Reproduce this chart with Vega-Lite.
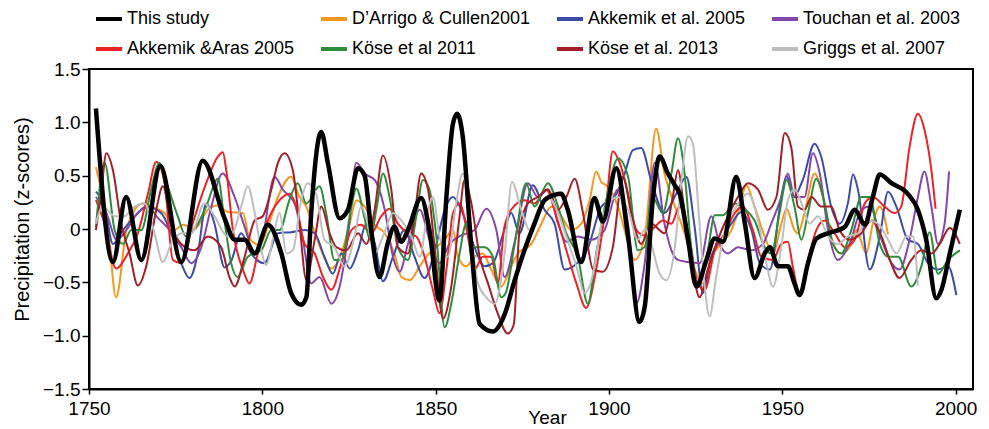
{
"$schema": "https://vega.github.io/schema/vega-lite/v6.json",
"width": 884, "height": 320,
"autosize": "none",
"padding": {"left": 89, "top": 69, "right": 16, "bottom": 40},
"background": "white",
"config": {
 "font": "Liberation Sans",
 "view": {"stroke": "black", "strokeWidth": 2},
 "axis": {"grid": false, "domainColor": "black", "domainWidth": 2, "tickColor": "black", "tickWidth": 1.5, "labelColor": "black", "titleColor": "black", "labelFontSize": 19, "titleFontSize": 20, "titleFontWeight": "normal"}
},
"data": {"values": [
{"series":"This study","year":1752,"z":1.13},{"series":"This study","year":1756.9,"z":-0.31},{"series":"This study","year":1760.7,"z":0.3},{"series":"This study","year":1765.1,"z":-0.29},{"series":"This study","year":1770.6,"z":0.59},{"series":"This study","year":1776.6,"z":-0.31},{"series":"This study","year":1782.8,"z":0.64},{"series":"This study","year":1789.1,"z":0.1},{"series":"This study","year":1792,"z":-0.1},{"series":"This study","year":1794.9,"z":-0.1},{"series":"This study","year":1797.8,"z":-0.23},{"series":"This study","year":1801.6,"z":0.04},{"series":"This study","year":1805.5,"z":-0.23},{"series":"This study","year":1808.3,"z":-0.6},{"series":"This study","year":1811.2,"z":-0.71},{"series":"This study","year":1812.7,"z":-0.64},{"series":"This study","year":1814.1,"z":0.15},{"series":"This study","year":1817,"z":0.91},{"series":"This study","year":1818.9,"z":0.62},{"series":"This study","year":1822.3,"z":0.1},{"series":"This study","year":1824.7,"z":0.18},{"series":"This study","year":1827.6,"z":0.57},{"series":"This study","year":1829.5,"z":0.5},{"series":"This study","year":1831.4,"z":-0.01},{"series":"This study","year":1833.8,"z":-0.45},{"series":"This study","year":1836.2,"z":-0.13},{"series":"This study","year":1838.1,"z":0.02},{"series":"This study","year":1840.1,"z":-0.12},{"series":"This study","year":1842,"z":-0.01},{"series":"This study","year":1845.8,"z":0.29},{"series":"This study","year":1848.2,"z":-0.01},{"series":"This study","year":1851.1,"z":-0.67},{"series":"This study","year":1853.1,"z":0.3},{"series":"This study","year":1855,"z":0.99},{"series":"This study","year":1856.2,"z":1.08},{"series":"This study","year":1857.8,"z":0.87},{"series":"This study","year":1860.3,"z":-0.17},{"series":"This study","year":1862.7,"z":-0.89},{"series":"This study","year":1866.5,"z":-0.96},{"series":"This study","year":1869.9,"z":-0.8},{"series":"This study","year":1872.8,"z":-0.48},{"series":"This study","year":1875.6,"z":-0.2},{"series":"This study","year":1878.5,"z":0.05},{"series":"This study","year":1881.4,"z":0.27},{"series":"This study","year":1884.3,"z":0.32},{"series":"This study","year":1886.2,"z":0.33},{"series":"This study","year":1888.1,"z":0.18},{"series":"This study","year":1892,"z":-0.31},{"series":"This study","year":1895.8,"z":0.29},{"series":"This study","year":1898.2,"z":0.07},{"series":"This study","year":1902.1,"z":0.57},{"series":"This study","year":1905.5,"z":-0.07},{"series":"This study","year":1908.8,"z":-0.87},{"series":"This study","year":1910.3,"z":-0.73},{"series":"This study","year":1912.7,"z":0.3},{"series":"This study","year":1914.6,"z":0.68},{"series":"This study","year":1917,"z":0.52},{"series":"This study","year":1919,"z":0.41},{"series":"This study","year":1920.4,"z":0.33},{"series":"This study","year":1922.8,"z":-0.1},{"series":"This study","year":1925.2,"z":-0.54},{"series":"This study","year":1928.1,"z":-0.29},{"series":"This study","year":1930.5,"z":-0.09},{"series":"This study","year":1932.9,"z":-0.12},{"series":"This study","year":1936.7,"z":0.49},{"series":"This study","year":1939.2,"z":0.05},{"series":"This study","year":1942,"z":-0.46},{"series":"This study","year":1944.9,"z":-0.23},{"series":"This study","year":1946.4,"z":-0.17},{"series":"This study","year":1948.7,"z":-0.35},{"series":"This study","year":1951.6,"z":-0.35},{"series":"This study","year":1953.5,"z":-0.51},{"series":"This study","year":1955,"z":-0.62},{"series":"This study","year":1957.4,"z":-0.32},{"series":"This study","year":1959.8,"z":-0.09},{"series":"This study","year":1963.2,"z":-0.04},{"series":"This study","year":1968,"z":0.02},{"series":"This study","year":1970.9,"z":0.18},{"series":"This study","year":1973.8,"z":0.04},{"series":"This study","year":1976.1,"z":0.3},{"series":"This study","year":1978.1,"z":0.51},{"series":"This study","year":1981.5,"z":0.43},{"series":"This study","year":1986.2,"z":0.33},{"series":"This study","year":1989.1,"z":0.18},{"series":"This study","year":1991.5,"z":-0.1},{"series":"This study","year":1994.4,"z":-0.65},{"series":"This study","year":1995.9,"z":-0.57},{"series":"This study","year":1998.3,"z":-0.23},{"series":"This study","year":2001.2,"z":0.18},
{"series":"D’Arrigo & Cullen2001","year":1752,"z":0.58},{"series":"D’Arrigo & Cullen2001","year":1755.5,"z":0.0},{"series":"D’Arrigo & Cullen2001","year":1757.8,"z":-0.64},{"series":"D’Arrigo & Cullen2001","year":1761,"z":0.02},{"series":"D’Arrigo & Cullen2001","year":1765.5,"z":0.24},{"series":"D’Arrigo & Cullen2001","year":1769.4,"z":0.19},{"series":"D’Arrigo & Cullen2001","year":1771.8,"z":0.15},{"series":"D’Arrigo & Cullen2001","year":1774.7,"z":-0.01},{"series":"D’Arrigo & Cullen2001","year":1777.1,"z":0.04},{"series":"D’Arrigo & Cullen2001","year":1780.4,"z":0.0},{"series":"D’Arrigo & Cullen2001","year":1784.3,"z":0.18},{"series":"D’Arrigo & Cullen2001","year":1787.2,"z":0.22},{"series":"D’Arrigo & Cullen2001","year":1790,"z":0.16},{"series":"D’Arrigo & Cullen2001","year":1794.4,"z":0.15},{"series":"D’Arrigo & Cullen2001","year":1796.3,"z":-0.09},{"series":"D’Arrigo & Cullen2001","year":1799.2,"z":-0.15},{"series":"D’Arrigo & Cullen2001","year":1801.6,"z":0.02},{"series":"D’Arrigo & Cullen2001","year":1804.5,"z":0.3},{"series":"D’Arrigo & Cullen2001","year":1808.3,"z":0.49},{"series":"D’Arrigo & Cullen2001","year":1810.7,"z":0.3},{"series":"D’Arrigo & Cullen2001","year":1812.7,"z":0.21},{"series":"D’Arrigo & Cullen2001","year":1814.1,"z":0.07},{"series":"D’Arrigo & Cullen2001","year":1817,"z":-0.2},{"series":"D’Arrigo & Cullen2001","year":1819.9,"z":-0.37},{"series":"D’Arrigo & Cullen2001","year":1822.8,"z":-0.23},{"series":"D’Arrigo & Cullen2001","year":1825.2,"z":0.05},{"series":"D’Arrigo & Cullen2001","year":1827.1,"z":0.27},{"series":"D’Arrigo & Cullen2001","year":1829.5,"z":0.21},{"series":"D’Arrigo & Cullen2001","year":1832.4,"z":0.04},{"series":"D’Arrigo & Cullen2001","year":1835.3,"z":-0.04},{"series":"D’Arrigo & Cullen2001","year":1838.1,"z":-0.23},{"series":"D’Arrigo & Cullen2001","year":1840.1,"z":-0.45},{"series":"D’Arrigo & Cullen2001","year":1842.5,"z":-0.48},{"series":"D’Arrigo & Cullen2001","year":1845.4,"z":-0.35},{"series":"D’Arrigo & Cullen2001","year":1847.8,"z":-0.24},{"series":"D’Arrigo & Cullen2001","year":1850.2,"z":-0.17},{"series":"D’Arrigo & Cullen2001","year":1852.6,"z":-0.1},{"series":"D’Arrigo & Cullen2001","year":1855,"z":-0.01},{"series":"D’Arrigo & Cullen2001","year":1856.4,"z":-0.26},{"series":"D’Arrigo & Cullen2001","year":1858.8,"z":-0.35},{"series":"D’Arrigo & Cullen2001","year":1861.2,"z":-0.26},{"series":"D’Arrigo & Cullen2001","year":1863.6,"z":-0.23},{"series":"D’Arrigo & Cullen2001","year":1866,"z":-0.38},{"series":"D’Arrigo & Cullen2001","year":1868.9,"z":-0.54},{"series":"D’Arrigo & Cullen2001","year":1871.8,"z":-0.35},{"series":"D’Arrigo & Cullen2001","year":1873.7,"z":-0.23},{"series":"D’Arrigo & Cullen2001","year":1877.6,"z":-0.14},{"series":"D’Arrigo & Cullen2001","year":1880.5,"z":0.05},{"series":"D’Arrigo & Cullen2001","year":1883.4,"z":0.21},{"series":"D’Arrigo & Cullen2001","year":1886.2,"z":0.12},{"series":"D’Arrigo & Cullen2001","year":1889.1,"z":-0.01},{"series":"D’Arrigo & Cullen2001","year":1892,"z":0.05},{"series":"D’Arrigo & Cullen2001","year":1894.4,"z":0.27},{"series":"D’Arrigo & Cullen2001","year":1896.3,"z":0.54},{"series":"D’Arrigo & Cullen2001","year":1897.8,"z":0.44},{"series":"D’Arrigo & Cullen2001","year":1899.2,"z":0.41},{"series":"D’Arrigo & Cullen2001","year":1902.6,"z":0.21},{"series":"D’Arrigo & Cullen2001","year":1905,"z":-0.07},{"series":"D’Arrigo & Cullen2001","year":1907.4,"z":-0.29},{"series":"D’Arrigo & Cullen2001","year":1910.3,"z":-0.07},{"series":"D’Arrigo & Cullen2001","year":1913.6,"z":0.94},{"series":"D’Arrigo & Cullen2001","year":1916,"z":0.52},{"series":"D’Arrigo & Cullen2001","year":1918.4,"z":0.27},{"series":"D’Arrigo & Cullen2001","year":1921.8,"z":-0.04},{"series":"D’Arrigo & Cullen2001","year":1924.7,"z":-0.38},{"series":"D’Arrigo & Cullen2001","year":1927.1,"z":-0.51},{"series":"D’Arrigo & Cullen2001","year":1929.5,"z":-0.26},{"series":"D’Arrigo & Cullen2001","year":1932.4,"z":-0.14},{"series":"D’Arrigo & Cullen2001","year":1935.3,"z":-0.01},{"series":"D’Arrigo & Cullen2001","year":1937.7,"z":0.21},{"series":"D’Arrigo & Cullen2001","year":1939.6,"z":0.41},{"series":"D’Arrigo & Cullen2001","year":1942,"z":0.21},{"series":"D’Arrigo & Cullen2001","year":1944.9,"z":-0.07},{"series":"D’Arrigo & Cullen2001","year":1947.3,"z":-0.23},{"series":"D’Arrigo & Cullen2001","year":1949.7,"z":0.05},{"series":"D’Arrigo & Cullen2001","year":1951.2,"z":0.19},{"series":"D’Arrigo & Cullen2001","year":1953.5,"z":-0.01},{"series":"D’Arrigo & Cullen2001","year":1954.5,"z":-0.04},{"series":"D’Arrigo & Cullen2001","year":1956.4,"z":0.15},{"series":"D’Arrigo & Cullen2001","year":1959.3,"z":0.52},{"series":"D’Arrigo & Cullen2001","year":1961.7,"z":0.3},{"series":"D’Arrigo & Cullen2001","year":1964.1,"z":-0.07},{"series":"D’Arrigo & Cullen2001","year":1967,"z":-0.23},{"series":"D’Arrigo & Cullen2001","year":1969.9,"z":-0.14},{"series":"D’Arrigo & Cullen2001","year":1971.4,"z":-0.01},{"series":"D’Arrigo & Cullen2001","year":1974.2,"z":-0.23},{"series":"D’Arrigo & Cullen2001","year":1976.1,"z":0.05},{"series":"D’Arrigo & Cullen2001","year":1978.1,"z":0.21},{"series":"D’Arrigo & Cullen2001","year":1980.5,"z":-0.05},
{"series":"Akkemik et al. 2005","year":1752,"z":0.35},{"series":"Akkemik et al. 2005","year":1754.5,"z":0.21},{"series":"Akkemik et al. 2005","year":1756.9,"z":-0.14},{"series":"Akkemik et al. 2005","year":1759.8,"z":-0.01},{"series":"Akkemik et al. 2005","year":1763.6,"z":0.13},{"series":"Akkemik et al. 2005","year":1766.5,"z":0.21},{"series":"Akkemik et al. 2005","year":1770.8,"z":0.15},{"series":"Akkemik et al. 2005","year":1773.7,"z":-0.04},{"series":"Akkemik et al. 2005","year":1776.6,"z":-0.32},{"series":"Akkemik et al. 2005","year":1779,"z":-0.46},{"series":"Akkemik et al. 2005","year":1781.4,"z":-0.23},{"series":"Akkemik et al. 2005","year":1783.8,"z":0.24},{"series":"Akkemik et al. 2005","year":1786.2,"z":0.05},{"series":"Akkemik et al. 2005","year":1789.1,"z":-0.36},{"series":"Akkemik et al. 2005","year":1791,"z":-0.3},{"series":"Akkemik et al. 2005","year":1793.9,"z":-0.04},{"series":"Akkemik et al. 2005","year":1796.8,"z":-0.23},{"series":"Akkemik et al. 2005","year":1800.6,"z":-0.32},{"series":"Akkemik et al. 2005","year":1804.5,"z":-0.04},{"series":"Akkemik et al. 2005","year":1808.3,"z":-0.03},{"series":"Akkemik et al. 2005","year":1812.2,"z":-0.01},{"series":"Akkemik et al. 2005","year":1815.1,"z":-0.04},{"series":"Akkemik et al. 2005","year":1817.9,"z":-0.26},{"series":"Akkemik et al. 2005","year":1820.3,"z":-0.42},{"series":"Akkemik et al. 2005","year":1822.8,"z":-0.23},{"series":"Akkemik et al. 2005","year":1825.2,"z":-0.37},{"series":"Akkemik et al. 2005","year":1827.6,"z":-0.2},{"series":"Akkemik et al. 2005","year":1830,"z":0.05},{"series":"Akkemik et al. 2005","year":1832.4,"z":-0.13},{"series":"Akkemik et al. 2005","year":1834.8,"z":-0.49},{"series":"Akkemik et al. 2005","year":1837.7,"z":-0.26},{"series":"Akkemik et al. 2005","year":1841,"z":-0.01},{"series":"Akkemik et al. 2005","year":1843.9,"z":-0.26},{"series":"Akkemik et al. 2005","year":1846.8,"z":-0.46},{"series":"Akkemik et al. 2005","year":1850.2,"z":-0.14},{"series":"Akkemik et al. 2005","year":1852.6,"z":0.18},{"series":"Akkemik et al. 2005","year":1855,"z":0.3},{"series":"Akkemik et al. 2005","year":1857.4,"z":0.18},{"series":"Akkemik et al. 2005","year":1861.2,"z":-0.17},{"series":"Akkemik et al. 2005","year":1864.1,"z":-0.35},{"series":"Akkemik et al. 2005","year":1866.5,"z":-0.32},{"series":"Akkemik et al. 2005","year":1869.9,"z":0.0},{"series":"Akkemik et al. 2005","year":1871.8,"z":0.15},{"series":"Akkemik et al. 2005","year":1874.2,"z":-0.04},{"series":"Akkemik et al. 2005","year":1878,"z":0.41},{"series":"Akkemik et al. 2005","year":1881.4,"z":0.18},{"series":"Akkemik et al. 2005","year":1884.3,"z":0.05},{"series":"Akkemik et al. 2005","year":1887.2,"z":-0.38},{"series":"Akkemik et al. 2005","year":1890.1,"z":-0.34},{"series":"Akkemik et al. 2005","year":1893.9,"z":-0.18},{"series":"Akkemik et al. 2005","year":1897.8,"z":0.21},{"series":"Akkemik et al. 2005","year":1901.6,"z":0.3},{"series":"Akkemik et al. 2005","year":1904.5,"z":0.52},{"series":"Akkemik et al. 2005","year":1906.9,"z":0.74},{"series":"Akkemik et al. 2005","year":1909.3,"z":0.76},{"series":"Akkemik et al. 2005","year":1912.2,"z":0.45},{"series":"Akkemik et al. 2005","year":1916,"z":0.15},{"series":"Akkemik et al. 2005","year":1919.4,"z":0.33},{"series":"Akkemik et al. 2005","year":1922.3,"z":0.49},{"series":"Akkemik et al. 2005","year":1924.7,"z":0.02},{"series":"Akkemik et al. 2005","year":1927.1,"z":-0.6},{"series":"Akkemik et al. 2005","year":1929.5,"z":-0.26},{"series":"Akkemik et al. 2005","year":1932.9,"z":-0.07},{"series":"Akkemik et al. 2005","year":1935.3,"z":0.05},{"series":"Akkemik et al. 2005","year":1938.2,"z":0.16},{"series":"Akkemik et al. 2005","year":1941.1,"z":-0.01},{"series":"Akkemik et al. 2005","year":1943.5,"z":-0.32},{"series":"Akkemik et al. 2005","year":1946.4,"z":-0.38},{"series":"Akkemik et al. 2005","year":1949.7,"z":0.3},{"series":"Akkemik et al. 2005","year":1951.2,"z":0.5},{"series":"Akkemik et al. 2005","year":1953.3,"z":0.3},{"series":"Akkemik et al. 2005","year":1955.9,"z":0.46},{"series":"Akkemik et al. 2005","year":1959.3,"z":0.8},{"series":"Akkemik et al. 2005","year":1961.2,"z":0.68},{"series":"Akkemik et al. 2005","year":1964.1,"z":0.21},{"series":"Akkemik et al. 2005","year":1966.5,"z":0.05},{"series":"Akkemik et al. 2005","year":1968.9,"z":0.24},{"series":"Akkemik et al. 2005","year":1970.4,"z":0.51},{"series":"Akkemik et al. 2005","year":1971.8,"z":0.37},{"series":"Akkemik et al. 2005","year":1975.2,"z":-0.38},{"series":"Akkemik et al. 2005","year":1978.1,"z":-0.07},{"series":"Akkemik et al. 2005","year":1980.5,"z":0.35},{"series":"Akkemik et al. 2005","year":1982.9,"z":0.21},{"series":"Akkemik et al. 2005","year":1986.2,"z":-0.1},{"series":"Akkemik et al. 2005","year":1989.1,"z":-0.14},{"series":"Akkemik et al. 2005","year":1992,"z":-0.32},{"series":"Akkemik et al. 2005","year":1994.9,"z":-0.38},{"series":"Akkemik et al. 2005","year":1997.8,"z":-0.35},{"series":"Akkemik et al. 2005","year":2000.2,"z":-0.62},
{"series":"Touchan et al. 2003","year":1752,"z":0.3},{"series":"Touchan et al. 2003","year":1755,"z":0.15},{"series":"Touchan et al. 2003","year":1758,"z":-0.1},{"series":"Touchan et al. 2003","year":1761,"z":0.0},{"series":"Touchan et al. 2003","year":1764,"z":0.15},{"series":"Touchan et al. 2003","year":1767,"z":0.2},{"series":"Touchan et al. 2003","year":1770,"z":0.1},{"series":"Touchan et al. 2003","year":1773,"z":0.0},{"series":"Touchan et al. 2003","year":1776.6,"z":-0.17},{"series":"Touchan et al. 2003","year":1779.5,"z":-0.32},{"series":"Touchan et al. 2003","year":1782.4,"z":-0.17},{"series":"Touchan et al. 2003","year":1785.3,"z":0.21},{"series":"Touchan et al. 2003","year":1788.5,"z":0.52},{"series":"Touchan et al. 2003","year":1792,"z":0.3},{"series":"Touchan et al. 2003","year":1794.9,"z":0.02},{"series":"Touchan et al. 2003","year":1797.8,"z":-0.23},{"series":"Touchan et al. 2003","year":1800.1,"z":-0.07},{"series":"Touchan et al. 2003","year":1803.5,"z":0.49},{"series":"Touchan et al. 2003","year":1805.9,"z":0.37},{"series":"Touchan et al. 2003","year":1809.3,"z":0.24},{"series":"Touchan et al. 2003","year":1811.7,"z":-0.1},{"series":"Touchan et al. 2003","year":1814.1,"z":-0.51},{"series":"Touchan et al. 2003","year":1816.5,"z":-0.45},{"series":"Touchan et al. 2003","year":1819.9,"z":-0.7},{"series":"Touchan et al. 2003","year":1822.3,"z":-0.54},{"series":"Touchan et al. 2003","year":1824.7,"z":-0.07},{"series":"Touchan et al. 2003","year":1827.1,"z":0.62},{"series":"Touchan et al. 2003","year":1829.5,"z":0.52},{"series":"Touchan et al. 2003","year":1832.4,"z":0.46},{"series":"Touchan et al. 2003","year":1835.3,"z":0.18},{"series":"Touchan et al. 2003","year":1837.7,"z":-0.26},{"series":"Touchan et al. 2003","year":1839.6,"z":-0.4},{"series":"Touchan et al. 2003","year":1842,"z":-0.14},{"series":"Touchan et al. 2003","year":1845.4,"z":0.18},{"series":"Touchan et al. 2003","year":1848.2,"z":-0.1},{"series":"Touchan et al. 2003","year":1851.1,"z":-0.32},{"series":"Touchan et al. 2003","year":1854,"z":-0.14},{"series":"Touchan et al. 2003","year":1857.4,"z":-0.06},{"series":"Touchan et al. 2003","year":1861.2,"z":-0.01},{"series":"Touchan et al. 2003","year":1864.6,"z":0.19},{"series":"Touchan et al. 2003","year":1867.5,"z":-0.01},{"series":"Touchan et al. 2003","year":1869.9,"z":-0.45},{"series":"Touchan et al. 2003","year":1872.8,"z":-0.12},{"series":"Touchan et al. 2003","year":1876.6,"z":0.43},{"series":"Touchan et al. 2003","year":1879.5,"z":0.3},{"series":"Touchan et al. 2003","year":1882.4,"z":0.37},{"series":"Touchan et al. 2003","year":1885.3,"z":0.05},{"series":"Touchan et al. 2003","year":1887.7,"z":-0.12},{"series":"Touchan et al. 2003","year":1891,"z":-0.07},{"series":"Touchan et al. 2003","year":1894.9,"z":-0.1},{"series":"Touchan et al. 2003","year":1898.7,"z":-0.01},{"series":"Touchan et al. 2003","year":1902.6,"z":0.37},{"series":"Touchan et al. 2003","year":1905.5,"z":0.05},{"series":"Touchan et al. 2003","year":1907.9,"z":-0.7},{"series":"Touchan et al. 2003","year":1910.3,"z":-0.32},{"series":"Touchan et al. 2003","year":1913.2,"z":0.62},{"series":"Touchan et al. 2003","year":1916,"z":0.05},{"series":"Touchan et al. 2003","year":1918,"z":-0.2},{"series":"Touchan et al. 2003","year":1919.9,"z":-0.29},{"series":"Touchan et al. 2003","year":1922.8,"z":-0.31},{"series":"Touchan et al. 2003","year":1926.2,"z":-0.32},{"series":"Touchan et al. 2003","year":1929.5,"z":0.12},{"series":"Touchan et al. 2003","year":1931.9,"z":-0.14},{"series":"Touchan et al. 2003","year":1934.3,"z":-0.23},{"series":"Touchan et al. 2003","year":1937.2,"z":-0.17},{"series":"Touchan et al. 2003","year":1941.1,"z":-0.2},{"series":"Touchan et al. 2003","year":1944.4,"z":-0.14},{"series":"Touchan et al. 2003","year":1946.8,"z":0.05},{"series":"Touchan et al. 2003","year":1949.7,"z":0.3},{"series":"Touchan et al. 2003","year":1951.6,"z":0.52},{"series":"Touchan et al. 2003","year":1953.5,"z":0.3},{"series":"Touchan et al. 2003","year":1956.4,"z":0.3},{"series":"Touchan et al. 2003","year":1958.8,"z":0.71},{"series":"Touchan et al. 2003","year":1960.8,"z":0.52},{"series":"Touchan et al. 2003","year":1963.2,"z":-0.01},{"series":"Touchan et al. 2003","year":1966,"z":-0.29},{"series":"Touchan et al. 2003","year":1969.4,"z":-0.14},{"series":"Touchan et al. 2003","year":1972.8,"z":0.18},{"series":"Touchan et al. 2003","year":1975.2,"z":0.21},{"series":"Touchan et al. 2003","year":1978.6,"z":-0.1},{"series":"Touchan et al. 2003","year":1981.5,"z":-0.32},{"series":"Touchan et al. 2003","year":1983.8,"z":-0.38},{"series":"Touchan et al. 2003","year":1986.7,"z":-0.1},{"series":"Touchan et al. 2003","year":1989.1,"z":0.3},{"series":"Touchan et al. 2003","year":1991,"z":0.54},{"series":"Touchan et al. 2003","year":1993,"z":0.21},{"series":"Touchan et al. 2003","year":1994.9,"z":-0.14},{"series":"Touchan et al. 2003","year":1996.8,"z":0.05},{"series":"Touchan et al. 2003","year":1998.1,"z":0.54},
{"series":"Akkemik &Aras 2005","year":1752,"z":0.27},{"series":"Akkemik &Aras 2005","year":1754.5,"z":0.05},{"series":"Akkemik &Aras 2005","year":1757.8,"z":-0.37},{"series":"Akkemik &Aras 2005","year":1761.2,"z":-0.23},{"series":"Akkemik &Aras 2005","year":1764.1,"z":-0.04},{"series":"Akkemik &Aras 2005","year":1767,"z":0.33},{"series":"Akkemik &Aras 2005","year":1769.4,"z":0.63},{"series":"Akkemik &Aras 2005","year":1771.8,"z":0.43},{"series":"Akkemik &Aras 2005","year":1774.2,"z":-0.29},{"series":"Akkemik &Aras 2005","year":1776.6,"z":-0.32},{"series":"Akkemik &Aras 2005","year":1779.9,"z":0.05},{"series":"Akkemik &Aras 2005","year":1783.8,"z":0.43},{"series":"Akkemik &Aras 2005","year":1787.2,"z":0.68},{"series":"Akkemik &Aras 2005","year":1788.6,"z":0.72},{"series":"Akkemik &Aras 2005","year":1789.6,"z":0.55},{"series":"Akkemik &Aras 2005","year":1791.5,"z":-0.01},{"series":"Akkemik &Aras 2005","year":1794.4,"z":-0.38},{"series":"Akkemik &Aras 2005","year":1796.3,"z":-0.51},{"series":"Akkemik &Aras 2005","year":1798.7,"z":-0.23},{"series":"Akkemik &Aras 2005","year":1801.6,"z":0.08},{"series":"Akkemik &Aras 2005","year":1805,"z":0.27},{"series":"Akkemik &Aras 2005","year":1807.8,"z":0.33},{"series":"Akkemik &Aras 2005","year":1809.8,"z":0.21},{"series":"Akkemik &Aras 2005","year":1812.2,"z":-0.14},{"series":"Akkemik &Aras 2005","year":1815.1,"z":-0.23},{"series":"Akkemik &Aras 2005","year":1817.5,"z":-0.45},{"series":"Akkemik &Aras 2005","year":1819.9,"z":-0.57},{"series":"Akkemik &Aras 2005","year":1822.8,"z":-0.32},{"series":"Akkemik &Aras 2005","year":1825.7,"z":-0.01},{"series":"Akkemik &Aras 2005","year":1828.5,"z":0.04},{"series":"Akkemik &Aras 2005","year":1831.4,"z":-0.04},{"series":"Akkemik &Aras 2005","year":1834.3,"z":0.12},{"series":"Akkemik &Aras 2005","year":1836.7,"z":0.19},{"series":"Akkemik &Aras 2005","year":1839.1,"z":0.05},{"series":"Akkemik &Aras 2005","year":1842,"z":-0.04},{"series":"Akkemik &Aras 2005","year":1844.4,"z":-0.07},{"series":"Akkemik &Aras 2005","year":1846.8,"z":-0.26},{"series":"Akkemik &Aras 2005","year":1849.2,"z":-0.57},{"series":"Akkemik &Aras 2005","year":1851.1,"z":-0.79},{"series":"Akkemik &Aras 2005","year":1853.1,"z":-0.38},{"series":"Akkemik &Aras 2005","year":1855,"z":0.15},{"series":"Akkemik &Aras 2005","year":1856.9,"z":0.24},{"series":"Akkemik &Aras 2005","year":1859.3,"z":-0.07},{"series":"Akkemik &Aras 2005","year":1861.2,"z":-0.38},{"series":"Akkemik &Aras 2005","year":1863.6,"z":-0.26},{"series":"Akkemik &Aras 2005","year":1866,"z":-0.26},{"series":"Akkemik &Aras 2005","year":1867.9,"z":-0.51},{"series":"Akkemik &Aras 2005","year":1869.9,"z":0.03},{"series":"Akkemik &Aras 2005","year":1872.8,"z":0.22},{"series":"Akkemik &Aras 2005","year":1875.6,"z":0.27},{"series":"Akkemik &Aras 2005","year":1878.5,"z":0.24},{"series":"Akkemik &Aras 2005","year":1881.9,"z":0.37},{"series":"Akkemik &Aras 2005","year":1884.8,"z":0.12},{"series":"Akkemik &Aras 2005","year":1887.7,"z":-0.2},{"series":"Akkemik &Aras 2005","year":1890.6,"z":-0.51},{"series":"Akkemik &Aras 2005","year":1893.4,"z":-0.74},{"series":"Akkemik &Aras 2005","year":1896.3,"z":-0.38},{"series":"Akkemik &Aras 2005","year":1899.2,"z":0.24},{"series":"Akkemik &Aras 2005","year":1901.1,"z":0.73},{"series":"Akkemik &Aras 2005","year":1903.1,"z":0.62},{"series":"Akkemik &Aras 2005","year":1905.5,"z":0.33},{"series":"Akkemik &Aras 2005","year":1907.9,"z":-0.01},{"series":"Akkemik &Aras 2005","year":1910.3,"z":-0.06},{"series":"Akkemik &Aras 2005","year":1913.2,"z":0.02},{"series":"Akkemik &Aras 2005","year":1915.5,"z":0.08},{"series":"Akkemik &Aras 2005","year":1918,"z":0.05},{"series":"Akkemik &Aras 2005","year":1920.4,"z":0.21},{"series":"Akkemik &Aras 2005","year":1922.8,"z":-0.01},{"series":"Akkemik &Aras 2005","year":1925.6,"z":-0.51},{"series":"Akkemik &Aras 2005","year":1927.6,"z":-0.57},{"series":"Akkemik &Aras 2005","year":1930.5,"z":-0.2},{"series":"Akkemik &Aras 2005","year":1933.4,"z":-0.04},{"series":"Akkemik &Aras 2005","year":1935.7,"z":0.12},{"series":"Akkemik &Aras 2005","year":1938.6,"z":0.21},{"series":"Akkemik &Aras 2005","year":1941.5,"z":-0.01},{"series":"Akkemik &Aras 2005","year":1943.9,"z":-0.26},{"series":"Akkemik &Aras 2005","year":1947.3,"z":-0.29},{"series":"Akkemik &Aras 2005","year":1949.7,"z":-0.14},{"series":"Akkemik &Aras 2005","year":1951.6,"z":-0.12},{"series":"Akkemik &Aras 2005","year":1953,"z":-0.35},{"series":"Akkemik &Aras 2005","year":1955,"z":-0.6},{"series":"Akkemik &Aras 2005","year":1957.4,"z":-0.29},{"series":"Akkemik &Aras 2005","year":1959.8,"z":-0.01},{"series":"Akkemik &Aras 2005","year":1962.2,"z":0.08},{"series":"Akkemik &Aras 2005","year":1965.1,"z":-0.04},{"series":"Akkemik &Aras 2005","year":1968,"z":-0.17},{"series":"Akkemik &Aras 2005","year":1970.9,"z":-0.1},{"series":"Akkemik &Aras 2005","year":1973.8,"z":0.24},{"series":"Akkemik &Aras 2005","year":1976.1,"z":0.3},{"series":"Akkemik &Aras 2005","year":1979.5,"z":0.21},{"series":"Akkemik &Aras 2005","year":1982.4,"z":0.15},{"series":"Akkemik &Aras 2005","year":1984.3,"z":0.21},{"series":"Akkemik &Aras 2005","year":1986.7,"z":0.77},{"series":"Akkemik &Aras 2005","year":1989.1,"z":1.08},{"series":"Akkemik &Aras 2005","year":1991,"z":0.93},{"series":"Akkemik &Aras 2005","year":1993,"z":0.55},{"series":"Akkemik &Aras 2005","year":1994.2,"z":0.19},
{"series":"Köse et al 2011","year":1752,"z":0.02},{"series":"Köse et al 2011","year":1754.5,"z":0.62},{"series":"Köse et al 2011","year":1757.4,"z":-0.01},{"series":"Köse et al 2011","year":1759.8,"z":-0.14},{"series":"Köse et al 2011","year":1762.2,"z":-0.01},{"series":"Köse et al 2011","year":1765.1,"z":-0.01},{"series":"Köse et al 2011","year":1767.9,"z":0.37},{"series":"Köse et al 2011","year":1770.3,"z":0.62},{"series":"Köse et al 2011","year":1772.7,"z":0.4},{"series":"Köse et al 2011","year":1775.6,"z":0.12},{"series":"Köse et al 2011","year":1778,"z":-0.07},{"series":"Köse et al 2011","year":1780.9,"z":0.02},{"series":"Köse et al 2011","year":1783.8,"z":0.21},{"series":"Köse et al 2011","year":1787.2,"z":0.47},{"series":"Köse et al 2011","year":1789.1,"z":0.07},{"series":"Köse et al 2011","year":1791,"z":-0.32},{"series":"Köse et al 2011","year":1792.9,"z":-0.45},{"series":"Köse et al 2011","year":1795.8,"z":-0.26},{"series":"Köse et al 2011","year":1799.7,"z":-0.2},{"series":"Köse et al 2011","year":1802.6,"z":-0.01},{"series":"Köse et al 2011","year":1805,"z":-0.01},{"series":"Köse et al 2011","year":1807.8,"z":0.27},{"series":"Köse et al 2011","year":1810.2,"z":0.43},{"series":"Köse et al 2011","year":1812.7,"z":0.24},{"series":"Köse et al 2011","year":1816.5,"z":0.4},{"series":"Köse et al 2011","year":1818.4,"z":0.15},{"series":"Köse et al 2011","year":1820.8,"z":-0.29},{"series":"Köse et al 2011","year":1822.8,"z":-0.29},{"series":"Köse et al 2011","year":1825.7,"z":0.21},{"series":"Köse et al 2011","year":1827.1,"z":0.38},{"series":"Köse et al 2011","year":1829.5,"z":0.1},{"series":"Köse et al 2011","year":1831,"z":-0.1},{"series":"Köse et al 2011","year":1833,"z":0.2},{"series":"Köse et al 2011","year":1834.8,"z":0.52},{"series":"Köse et al 2011","year":1836.7,"z":0.3},{"series":"Köse et al 2011","year":1839.1,"z":-0.17},{"series":"Köse et al 2011","year":1842,"z":-0.29},{"series":"Köse et al 2011","year":1844.4,"z":0.12},{"series":"Köse et al 2011","year":1846.3,"z":0.46},{"series":"Köse et al 2011","year":1848.2,"z":0.37},{"series":"Köse et al 2011","year":1850.2,"z":-0.07},{"series":"Köse et al 2011","year":1852.6,"z":-0.92},{"series":"Köse et al 2011","year":1854.5,"z":-0.7},{"series":"Köse et al 2011","year":1856.9,"z":-0.23},{"series":"Köse et al 2011","year":1858.8,"z":0.05},{"series":"Köse et al 2011","year":1861.2,"z":-0.17},{"series":"Köse et al 2011","year":1864.1,"z":-0.17},{"series":"Köse et al 2011","year":1866.5,"z":-0.26},{"series":"Köse et al 2011","year":1868.9,"z":-0.64},{"series":"Köse et al 2011","year":1870.2,"z":-0.6},{"series":"Köse et al 2011","year":1872.8,"z":-0.14},{"series":"Köse et al 2011","year":1876.1,"z":0.43},{"series":"Köse et al 2011","year":1878.5,"z":0.21},{"series":"Köse et al 2011","year":1882.4,"z":0.43},{"series":"Köse et al 2011","year":1885.3,"z":0.21},{"series":"Köse et al 2011","year":1887.7,"z":-0.04},{"series":"Köse et al 2011","year":1891,"z":-0.26},{"series":"Köse et al 2011","year":1893.9,"z":-0.7},{"series":"Köse et al 2011","year":1896.3,"z":-0.23},{"series":"Köse et al 2011","year":1899.2,"z":0.27},{"series":"Köse et al 2011","year":1902.6,"z":0.66},{"series":"Köse et al 2011","year":1905.5,"z":0.49},{"series":"Köse et al 2011","year":1908.3,"z":-0.2},{"series":"Köse et al 2011","year":1910.3,"z":-0.17},{"series":"Köse et al 2011","year":1912.5,"z":0.3},{"series":"Köse et al 2011","year":1915.5,"z":0.15},{"series":"Köse et al 2011","year":1918,"z":0.52},{"series":"Köse et al 2011","year":1919.9,"z":0.85},{"series":"Köse et al 2011","year":1921.8,"z":0.52},{"series":"Köse et al 2011","year":1923.7,"z":-0.17},{"series":"Köse et al 2011","year":1925.6,"z":-0.54},{"series":"Köse et al 2011","year":1928.5,"z":-0.2},{"series":"Köse et al 2011","year":1930.5,"z":0.13},{"series":"Köse et al 2011","year":1932.9,"z":0.13},{"series":"Köse et al 2011","year":1936.2,"z":0.24},{"series":"Köse et al 2011","year":1939.1,"z":0.19},{"series":"Köse et al 2011","year":1942,"z":0.08},{"series":"Köse et al 2011","year":1944.9,"z":-0.17},{"series":"Köse et al 2011","year":1946.8,"z":-0.23},{"series":"Köse et al 2011","year":1949.2,"z":0.15},{"series":"Köse et al 2011","year":1951.2,"z":0.46},{"series":"Köse et al 2011","year":1953.5,"z":0.21},{"series":"Köse et al 2011","year":1955.5,"z":-0.1},{"series":"Köse et al 2011","year":1957.4,"z":0.15},{"series":"Köse et al 2011","year":1959.8,"z":0.47},{"series":"Köse et al 2011","year":1962.2,"z":0.24},{"series":"Köse et al 2011","year":1964.6,"z":-0.14},{"series":"Köse et al 2011","year":1967,"z":-0.23},{"series":"Köse et al 2011","year":1969.9,"z":-0.01},{"series":"Köse et al 2011","year":1972.8,"z":0.3},{"series":"Köse et al 2011","year":1975.2,"z":0.3},{"series":"Köse et al 2011","year":1978.1,"z":-0.14},{"series":"Köse et al 2011","year":1980.5,"z":-0.26},{"series":"Köse et al 2011","year":1983.4,"z":-0.26},{"series":"Köse et al 2011","year":1987.2,"z":-0.54},{"series":"Köse et al 2011","year":1990.1,"z":-0.35},{"series":"Köse et al 2011","year":1992.5,"z":-0.03},{"series":"Köse et al 2011","year":1994.9,"z":-0.42},{"series":"Köse et al 2011","year":1997.8,"z":-0.29},{"series":"Köse et al 2011","year":2001.2,"z":-0.2},
{"series":"Köse et al. 2013","year":1752,"z":-0.01},{"series":"Köse et al. 2013","year":1753.5,"z":0.33},{"series":"Köse et al. 2013","year":1755,"z":0.71},{"series":"Köse et al. 2013","year":1756.9,"z":0.55},{"series":"Köse et al. 2013","year":1759.3,"z":0.05},{"series":"Köse et al. 2013","year":1761.7,"z":-0.23},{"series":"Köse et al. 2013","year":1764.1,"z":-0.53},{"series":"Köse et al. 2013","year":1766.5,"z":-0.35},{"series":"Köse et al. 2013","year":1769.4,"z":0.18},{"series":"Köse et al. 2013","year":1771.3,"z":0.4},{"series":"Köse et al. 2013","year":1773.7,"z":0.05},{"series":"Köse et al. 2013","year":1776.6,"z":-0.14},{"series":"Köse et al. 2013","year":1780.4,"z":-0.2},{"series":"Köse et al. 2013","year":1784.3,"z":-0.07},{"series":"Köse et al. 2013","year":1788.1,"z":-0.17},{"series":"Köse et al. 2013","year":1790.5,"z":-0.45},{"series":"Köse et al. 2013","year":1792,"z":-0.54},{"series":"Köse et al. 2013","year":1794.9,"z":-0.26},{"series":"Köse et al. 2013","year":1797.8,"z":0.08},{"series":"Köse et al. 2013","year":1800.1,"z":0.12},{"series":"Köse et al. 2013","year":1802.6,"z":0.37},{"series":"Köse et al. 2013","year":1804.5,"z":0.62},{"series":"Köse et al. 2013","year":1806.4,"z":0.71},{"series":"Köse et al. 2013","year":1808.8,"z":0.55},{"series":"Köse et al. 2013","year":1810.7,"z":0.05},{"series":"Köse et al. 2013","year":1812.7,"z":-0.48},{"series":"Köse et al. 2013","year":1815.1,"z":-0.1},{"series":"Köse et al. 2013","year":1817,"z":0.21},{"series":"Köse et al. 2013","year":1819.4,"z":-0.04},{"series":"Köse et al. 2013","year":1821.3,"z":-0.17},{"series":"Köse et al. 2013","year":1824.2,"z":-0.2},{"series":"Köse et al. 2013","year":1827.6,"z":-0.04},{"series":"Köse et al. 2013","year":1830,"z":-0.14},{"series":"Köse et al. 2013","year":1832.4,"z":0.18},{"series":"Köse et al. 2013","year":1834.8,"z":0.69},{"series":"Köse et al. 2013","year":1837.2,"z":0.37},{"series":"Köse et al. 2013","year":1839.1,"z":-0.17},{"series":"Köse et al. 2013","year":1842,"z":-0.23},{"series":"Köse et al. 2013","year":1843.9,"z":0.12},{"series":"Köse et al. 2013","year":1845.8,"z":0.52},{"series":"Köse et al. 2013","year":1847.8,"z":0.37},{"series":"Köse et al. 2013","year":1849.7,"z":-0.17},{"series":"Köse et al. 2013","year":1852.1,"z":-0.84},{"series":"Köse et al. 2013","year":1854.5,"z":-0.54},{"series":"Köse et al. 2013","year":1856.9,"z":0.12},{"series":"Köse et al. 2013","year":1858.3,"z":0.46},{"series":"Köse et al. 2013","year":1860.3,"z":0.24},{"series":"Köse et al. 2013","year":1862.7,"z":-0.26},{"series":"Köse et al. 2013","year":1865.1,"z":-0.51},{"series":"Köse et al. 2013","year":1867.9,"z":-0.79},{"series":"Köse et al. 2013","year":1870.8,"z":-0.98},{"series":"Köse et al. 2013","year":1872.5,"z":-0.9},{"series":"Köse et al. 2013","year":1874.2,"z":-0.01},{"series":"Köse et al. 2013","year":1876.6,"z":0.24},{"series":"Köse et al. 2013","year":1879.5,"z":0.3},{"series":"Köse et al. 2013","year":1882.4,"z":0.37},{"series":"Köse et al. 2013","year":1885.3,"z":0.18},{"series":"Köse et al. 2013","year":1887.7,"z":0.3},{"series":"Köse et al. 2013","year":1890.1,"z":0.47},{"series":"Köse et al. 2013","year":1892.5,"z":0.15},{"series":"Köse et al. 2013","year":1895.4,"z":-0.38},{"series":"Köse et al. 2013","year":1898.2,"z":-0.4},{"series":"Köse et al. 2013","year":1901.1,"z":-0.17},{"series":"Köse et al. 2013","year":1904,"z":0.49},{"series":"Köse et al. 2013","year":1906.4,"z":0.15},{"series":"Köse et al. 2013","year":1909.3,"z":-0.14},{"series":"Köse et al. 2013","year":1912.2,"z":0.05},{"series":"Köse et al. 2013","year":1916,"z":-0.04},{"series":"Köse et al. 2013","year":1918.4,"z":0.3},{"series":"Köse et al. 2013","year":1919.9,"z":0.55},{"series":"Köse et al. 2013","year":1921.8,"z":0.15},{"series":"Köse et al. 2013","year":1924.2,"z":-0.38},{"series":"Köse et al. 2013","year":1926.1,"z":-0.64},{"series":"Köse et al. 2013","year":1928.5,"z":-0.38},{"series":"Köse et al. 2013","year":1931.4,"z":-0.1},{"series":"Köse et al. 2013","year":1934.3,"z":0.12},{"series":"Köse et al. 2013","year":1937.2,"z":0.3},{"series":"Köse et al. 2013","year":1940.1,"z":0.43},{"series":"Köse et al. 2013","year":1943,"z":0.37},{"series":"Köse et al. 2013","year":1945.8,"z":0.18},{"series":"Köse et al. 2013","year":1948.3,"z":0.3},{"series":"Köse et al. 2013","year":1950.7,"z":0.9},{"series":"Köse et al. 2013","year":1952.6,"z":0.76},{"series":"Köse et al. 2013","year":1954.5,"z":0.21},{"series":"Köse et al. 2013","year":1956.4,"z":0.18},{"series":"Köse et al. 2013","year":1958.4,"z":0.3},{"series":"Köse et al. 2013","year":1961.2,"z":0.21},{"series":"Köse et al. 2013","year":1964.1,"z":0.21},{"series":"Köse et al. 2013","year":1966.5,"z":-0.01},{"series":"Köse et al. 2013","year":1969.4,"z":-0.1},{"series":"Köse et al. 2013","year":1972.8,"z":-0.04},{"series":"Köse et al. 2013","year":1975.7,"z":0.08},{"series":"Köse et al. 2013","year":1978.6,"z":-0.07},{"series":"Köse et al. 2013","year":1981,"z":-0.29},{"series":"Köse et al. 2013","year":1983.8,"z":-0.46},{"series":"Köse et al. 2013","year":1987.2,"z":-0.29},{"series":"Köse et al. 2013","year":1990.1,"z":-0.2},{"series":"Köse et al. 2013","year":1993,"z":-0.23},{"series":"Köse et al. 2013","year":1995.4,"z":-0.14},{"series":"Köse et al. 2013","year":1998.3,"z":0.01},{"series":"Köse et al. 2013","year":2001.2,"z":-0.14},
{"series":"Griggs et al. 2007","year":1752,"z":0.05},{"series":"Griggs et al. 2007","year":1754,"z":0.21},{"series":"Griggs et al. 2007","year":1757.4,"z":0.12},{"series":"Griggs et al. 2007","year":1760.2,"z":0.12},{"series":"Griggs et al. 2007","year":1763.1,"z":0.21},{"series":"Griggs et al. 2007","year":1766,"z":0.24},{"series":"Griggs et al. 2007","year":1768.9,"z":-0.04},{"series":"Griggs et al. 2007","year":1771.3,"z":-0.31},{"series":"Griggs et al. 2007","year":1773.7,"z":-0.14},{"series":"Griggs et al. 2007","year":1776.6,"z":-0.04},{"series":"Griggs et al. 2007","year":1779.5,"z":-0.04},{"series":"Griggs et al. 2007","year":1783.3,"z":0.24},{"series":"Griggs et al. 2007","year":1786.2,"z":0.12},{"series":"Griggs et al. 2007","year":1790,"z":-0.07},{"series":"Griggs et al. 2007","year":1792,"z":0.0},{"series":"Griggs et al. 2007","year":1793.9,"z":0.21},{"series":"Griggs et al. 2007","year":1795.8,"z":0.4},{"series":"Griggs et al. 2007","year":1797.8,"z":0.15},{"series":"Griggs et al. 2007","year":1799.7,"z":-0.2},{"series":"Griggs et al. 2007","year":1801.1,"z":-0.34},{"series":"Griggs et al. 2007","year":1803,"z":-0.1},{"series":"Griggs et al. 2007","year":1805,"z":0.15},{"series":"Griggs et al. 2007","year":1806.9,"z":-0.23},{"series":"Griggs et al. 2007","year":1808.8,"z":-0.2},{"series":"Griggs et al. 2007","year":1811.2,"z":0.27},{"series":"Griggs et al. 2007","year":1813.1,"z":0.43},{"series":"Griggs et al. 2007","year":1815.5,"z":0.33},{"series":"Griggs et al. 2007","year":1817.9,"z":-0.1},{"series":"Griggs et al. 2007","year":1820.8,"z":-0.17},{"series":"Griggs et al. 2007","year":1823.7,"z":-0.35},{"series":"Griggs et al. 2007","year":1826.6,"z":-0.07},{"series":"Griggs et al. 2007","year":1828.5,"z":0.21},{"series":"Griggs et al. 2007","year":1830.4,"z":0.05},{"series":"Griggs et al. 2007","year":1832.4,"z":-0.23},{"series":"Griggs et al. 2007","year":1835,"z":-0.05},{"series":"Griggs et al. 2007","year":1837.7,"z":0.15},{"series":"Griggs et al. 2007","year":1840.1,"z":0.08},{"series":"Griggs et al. 2007","year":1843,"z":-0.07},{"series":"Griggs et al. 2007","year":1845.4,"z":-0.26},{"series":"Griggs et al. 2007","year":1847.8,"z":0.18},{"series":"Griggs et al. 2007","year":1849.2,"z":0.3},{"series":"Griggs et al. 2007","year":1851.1,"z":-0.07},{"series":"Griggs et al. 2007","year":1853.5,"z":-0.26},{"series":"Griggs et al. 2007","year":1855.9,"z":0.24},{"series":"Griggs et al. 2007","year":1857.8,"z":0.52},{"series":"Griggs et al. 2007","year":1859.8,"z":0.05},{"series":"Griggs et al. 2007","year":1862.2,"z":-0.51},{"series":"Griggs et al. 2007","year":1864.6,"z":-0.64},{"series":"Griggs et al. 2007","year":1867,"z":-0.7},{"series":"Griggs et al. 2007","year":1869.9,"z":-0.23},{"series":"Griggs et al. 2007","year":1872,"z":0.44},{"series":"Griggs et al. 2007","year":1874.7,"z":0.18},{"series":"Griggs et al. 2007","year":1877.1,"z":-0.01},{"series":"Griggs et al. 2007","year":1879.5,"z":0.18},{"series":"Griggs et al. 2007","year":1882.4,"z":0.3},{"series":"Griggs et al. 2007","year":1885.3,"z":0.15},{"series":"Griggs et al. 2007","year":1887.7,"z":-0.07},{"series":"Griggs et al. 2007","year":1890.6,"z":-0.35},{"series":"Griggs et al. 2007","year":1893,"z":-0.6},{"series":"Griggs et al. 2007","year":1895.4,"z":-0.42},{"series":"Griggs et al. 2007","year":1897.8,"z":0.05},{"series":"Griggs et al. 2007","year":1899.7,"z":0.24},{"series":"Griggs et al. 2007","year":1902.6,"z":0.3},{"series":"Griggs et al. 2007","year":1905.5,"z":0.18},{"series":"Griggs et al. 2007","year":1908.3,"z":-0.1},{"series":"Griggs et al. 2007","year":1910.5,"z":0.0},{"series":"Griggs et al. 2007","year":1912.2,"z":-0.14},{"series":"Griggs et al. 2007","year":1914.6,"z":-0.42},{"series":"Griggs et al. 2007","year":1916.5,"z":-0.48},{"series":"Griggs et al. 2007","year":1919,"z":-0.17},{"series":"Griggs et al. 2007","year":1920.9,"z":0.46},{"series":"Griggs et al. 2007","year":1922.8,"z":0.87},{"series":"Griggs et al. 2007","year":1924.2,"z":0.8},{"series":"Griggs et al. 2007","year":1926.1,"z":0.05},{"series":"Griggs et al. 2007","year":1927.6,"z":-0.54},{"series":"Griggs et al. 2007","year":1929,"z":-0.82},{"series":"Griggs et al. 2007","year":1930.9,"z":-0.45},{"series":"Griggs et al. 2007","year":1933.4,"z":-0.01},{"series":"Griggs et al. 2007","year":1936.2,"z":0.18},{"series":"Griggs et al. 2007","year":1940.1,"z":0.33},{"series":"Griggs et al. 2007","year":1943,"z":0.08},{"series":"Griggs et al. 2007","year":1945.4,"z":-0.32},{"series":"Griggs et al. 2007","year":1947.3,"z":-0.54},{"series":"Griggs et al. 2007","year":1949.7,"z":-0.17},{"series":"Griggs et al. 2007","year":1951.6,"z":0.27},{"series":"Griggs et al. 2007","year":1953.5,"z":0.37},{"series":"Griggs et al. 2007","year":1955.9,"z":0.21},{"series":"Griggs et al. 2007","year":1957.9,"z":0.05},{"series":"Griggs et al. 2007","year":1960.3,"z":0.12},{"series":"Griggs et al. 2007","year":1963.2,"z":-0.07},{"series":"Griggs et al. 2007","year":1966,"z":-0.14},{"series":"Griggs et al. 2007","year":1968.9,"z":-0.07},{"series":"Griggs et al. 2007","year":1971.8,"z":-0.04},{"series":"Griggs et al. 2007","year":1974.7,"z":0.08},{"series":"Griggs et al. 2007","year":1977.6,"z":0.05},{"series":"Griggs et al. 2007","year":1980.5,"z":-0.1},{"series":"Griggs et al. 2007","year":1982.9,"z":-0.23},{"series":"Griggs et al. 2007","year":1985.8,"z":-0.07},{"series":"Griggs et al. 2007","year":1987.7,"z":-0.07},{"series":"Griggs et al. 2007","year":1989.1,"z":-0.53}
]},
"encoding": {
 "x": {"field": "year", "type": "quantitative", "scale": {"domain": [1750, 2005], "nice": false, "zero": false},
  "axis": {"values": [1750, 1800, 1850, 1900, 1950, 2000], "format": "d", "title": "Year", "tickSize": 5, "labelPadding": 5, "labelFlush": false, "labelDx": 7.5, "titleX": 458, "titleY": 34, "titleBaseline": "alphabetic", "titleFontSize": 19}},
 "y": {"field": "z", "type": "quantitative", "scale": {"domain": [-1.5, 1.5], "nice": false, "zero": false},
  "axis": {"values": [-1.5, -1, -0.5, 0, 0.5, 1, 1.5], "labelExpr": "datum.value === 0 ? '0' : format(datum.value, '.1f')", "title": "Precipitation (z-scores)", "tickSize": 7, "labelPadding": 2, "titleX": -67, "titleY": 150, "titleBaseline": "middle", "titleAlign": "center", "titleAngle": -90}},
 "color": {"field": "series", "type": "nominal",
  "scale": {"domain": ["This study", "D’Arrigo & Cullen2001", "Akkemik et al. 2005", "Touchan et al. 2003", "Akkemik &Aras 2005", "Köse et al 2011", "Köse et al. 2013", "Griggs et al. 2007"],
   "range": ["#000000", "#F7961E", "#3B4CA6", "#8446A8", "#EC2227", "#2D8C3C", "#A21F27", "#BEBEBE"]},
  "legend": {"title": null, "orient": "none", "legendX": 5, "legendY": -65, "columns": 4, "direction": "horizontal", "symbolType": "stroke", "symbolSize": 676, "symbolStrokeWidth": 4, "labelFontSize": 18, "labelLimit": 0, "labelColor": "black", "labelOffset": 3, "columnPadding": 18, "rowPadding": 6, "symbolOpacity": 1}}
},
"layer": [
 {"transform": [{"filter": "datum.series !== 'This study'"}], "mark": {"type": "line", "interpolate": "monotone", "strokeWidth": 2}},
 {"transform": [{"filter": "datum.series === 'This study'"}], "mark": {"type": "line", "interpolate": "monotone", "strokeWidth": 4.5}}
]
}
